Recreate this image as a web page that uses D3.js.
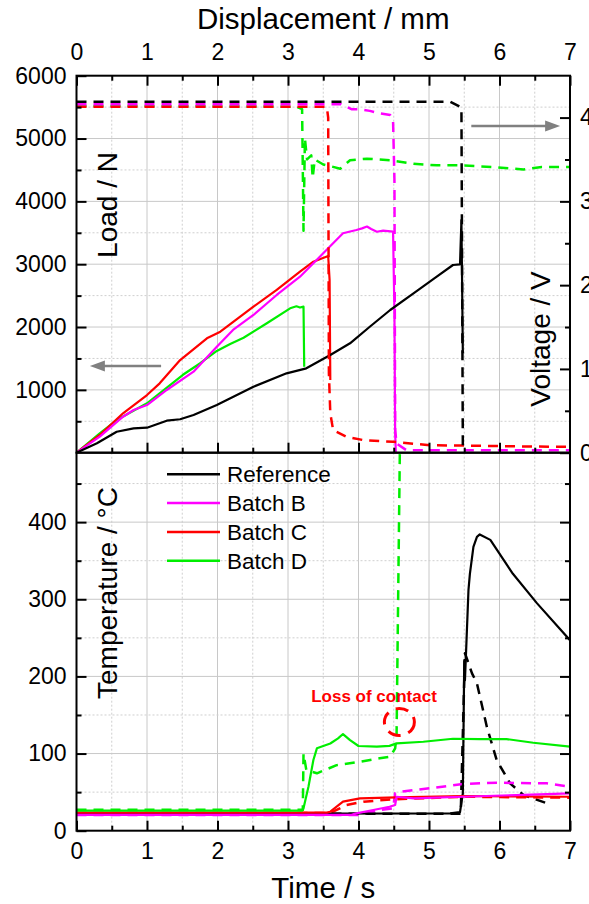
<!DOCTYPE html>
<html>
<head>
<meta charset="utf-8">
<script src="https://cdn.jsdelivr.net/npm/d3@7"></script>
<style>
body { margin: 0; background: #fff; }
svg { display: block; font-family: "Liberation Sans", Arial, sans-serif; }
</style>
</head>
<body>
<svg id="svg-main" width="589" height="904"></svg>
<script>
// series
var seriesNames = ["Reference", "Batch B", "Batch C", "Batch D"];
var seriesColors = ["#000000", "#ff00ff", "#ff0000", "#00ee00"];

// load (N) vs time (s), solid lines in the upper panel
var loadRef = [[0,0],[0.29,150],[0.57,334],[0.81,388],[1.0,398],[1.28,509],[1.47,532],[1.66,600],[1.99,759],[2.51,1050],[2.98,1263],[3.26,1343],[3.6,1555],[3.88,1741],[4.16,2005],[4.45,2271],[4.78,2537],[5.11,2801],[5.34,2987],[5.44,2998],[5.46,3703],[5.48,1582]];
var loadB = [[0,0],[0.33,255],[0.66,573],[0.81,680],[1.0,759],[1.28,998],[1.66,1289],[1.99,1687],[2.22,1953],[2.51,2192],[2.84,2510],[3.17,2801],[3.36,3014],[3.5,3174],[3.78,3492],[3.97,3545],[4.05,3570],[4.12,3600],[4.18,3560],[4.26,3517],[4.35,3535],[4.49,3517],[4.51,2219],[4.52,309],[4.53,0]];
var loadC = [[0,0],[0.33,282],[0.66,627],[1.0,918],[1.18,1104],[1.47,1475],[1.85,1821],[2.04,1926],[2.51,2324],[2.84,2590],[3.17,2881],[3.36,3040],[3.57,3131],[3.59,2749],[3.6,1157]];
var loadD = [[0,0],[0.33,309],[0.57,520],[1.0,786],[1.51,1240],[1.75,1420],[1.99,1620],[2.18,1730],[2.37,1830],[2.7,2060],[3.03,2298],[3.12,2330],[3.17,2310],[3.22,2324],[3.23,1369]];

// voltage (V) vs time (s), dashed lines in the upper panel
var voltRef = [[0,4.19],[5.3,4.19],[5.46,4.12],[5.48,0.06]];
var voltB = [[0,4.16],[3.6,4.16],[3.75,4.16],[3.9,4.1],[4.0,4.1],[4.16,4.08],[4.3,4.05],[4.45,4.03],[4.49,3.97],[4.51,3.25],[4.52,0.27],[4.54,0.11],[4.68,0.03],[7,0.03]];
var voltC = [[0,4.13],[3.55,4.13],[3.57,4.0],[3.58,0.95],[3.6,0.47],[3.64,0.27],[3.83,0.19],[4.07,0.15],[4.49,0.13],[5.01,0.09],[6.81,0.07],[7,0.07]];
var voltD = [[0,4.14],[3.12,4.13],[3.2,4.1],[3.22,2.65],[3.24,3.75],[3.27,3.5],[3.33,3.55],[3.35,3.28],[3.38,3.5],[3.5,3.44],[3.6,3.42],[3.74,3.39],[3.88,3.49],[4.12,3.51],[4.45,3.49],[4.78,3.45],[5.11,3.43],[5.44,3.43],[5.91,3.41],[6.34,3.38],[6.6,3.41],[7,3.41]];

// temperature (°C) vs time (s), solid lines in the lower panel
var tempRef = [[0,22],[5.3,22.5],[5.44,24],[5.48,48.5],[5.5,221],[5.51,195],[5.56,312],[5.58,333],[5.63,368],[5.68,381],[5.72,384],[5.87,377],[6.19,333],[6.53,295],[7,247]];
var tempB = [[0,20.5],[3.9,20.5],[3.97,22.5],[4.21,26.8],[4.44,31],[4.52,33.3],[4.54,44],[4.78,42],[5.48,44],[7,48.5]];
var tempC = [[0,23.5],[3.55,23.5],[3.6,24.6],[3.78,37.6],[4.02,42],[4.54,43.3],[5.48,45],[7,44]];
var tempD = [[0,26],[3.2,26],[3.22,29],[3.29,57],[3.36,91.6],[3.41,106.8],[3.6,113],[3.71,119.7],[3.78,125.3],[3.88,117.5],[4.0,109.8],[4.26,108.9],[4.44,110],[4.54,113.2],[4.92,115.3],[5.34,119.2],[5.72,118.8],[6.1,118.8],[6.48,114],[7,108.9]];

// second temperature reading, dashed lines in the lower panel
var temp2Ref = [[0,22],[5.45,22],[5.51,230],[5.61,204],[5.68,191],[5.82,134.8],[5.96,91.6],[6.15,61.4],[6.34,46.3],[6.74,33.3]];
var temp2B = [[0,20.5],[4.0,20.5],[4.3,26.8],[4.49,29],[4.52,48.5],[4.59,50.5],[5.01,55],[5.48,60.5],[5.96,62.2],[6.67,61.4],[7,57]];
var temp2C = [[0,23],[3.6,23],[3.83,33.3],[4.07,37.6],[4.49,40.7],[5.48,44],[7,42.8]];
var temp2D = [[0,27],[3.21,27],[3.22,100],[3.26,78.7],[3.41,74.4],[3.69,85],[4.02,89.4],[4.3,93.8],[4.45,95.9],[4.52,106.8],[4.54,124],[4.59,520]];

// ticks
var timeMajor = [0,1,2,3,4,5,6,7];
var timeMinor = [0.5,1.5,2.5,3.5,4.5,5.5,6.5];
var loadMajor = [1000,2000,3000,4000,5000,6000];
var loadMinor = [500,1500,2500,3500,4500,5500];
var voltMajor = [0,1,2,3,4];
var voltMinor = [0.5,1.5,2.5,3.5];
var tempMajor = [0,100,200,300,400];
var tempMinor = [50,150,250,350,450];

var svg = d3.select("svg");
var left = 76.5, right = 570, top1 = 75.7, mid = 452.7, bottom = 830.7;

var x = d3.scaleLinear().domain([0, 7]).range([left, right]);
var yLoad = d3.scaleLinear().domain([0, 6000]).range([mid, top1]);
var yVolt = d3.scaleLinear().domain([0, 4.5]).range([mid, top1]);
var yTemp = d3.scaleLinear().domain([0, 490]).range([bottom, mid]);

var defs = svg.append("defs");
defs.append("clipPath").attr("id", "clip-top").append("rect")
    .attr("x", left).attr("y", top1).attr("width", right - left).attr("height", mid - top1);
defs.append("clipPath").attr("id", "clip-bot").append("rect")
    .attr("x", left).attr("y", mid).attr("width", right - left).attr("height", bottom - mid);

// grid
function grid(y0, y1, ys, minorYs) {
    var g = svg.append("g");
    timeMajor.slice(1, 7).forEach(function (t) {
        g.append("line").attr("x1", x(t)).attr("x2", x(t)).attr("y1", y0).attr("y2", y1)
            .attr("stroke", "#c8c8c8").attr("stroke-width", 1);
    });
    timeMinor.forEach(function (t) {
        g.append("line").attr("x1", x(t)).attr("x2", x(t)).attr("y1", y0).attr("y2", y1)
            .attr("stroke", "#cfcfcf").attr("stroke-width", 1).attr("stroke-dasharray", "2,2");
    });
    ys.forEach(function (y) {
        g.append("line").attr("x1", left).attr("x2", right).attr("y1", y).attr("y2", y)
            .attr("stroke", "#c8c8c8").attr("stroke-width", 1);
    });
    minorYs.forEach(function (y) {
        g.append("line").attr("x1", left).attr("x2", right).attr("y1", y).attr("y2", y)
            .attr("stroke", "#cfcfcf").attr("stroke-width", 1).attr("stroke-dasharray", "2,2");
    });
}
grid(top1, mid, loadMajor.slice(0, 5).map(yLoad), loadMinor.map(yLoad));
grid(mid, bottom, tempMajor.slice(1).map(yTemp), tempMinor.map(yTemp));

// lines
function drawLine(data, yScale, color, dashed, clip) {
    var line = d3.line()
        .x(function (d) { return x(d[0]); })
        .y(function (d) { return yScale(d[1]); });
    svg.append("path")
        .datum(data)
        .attr("clip-path", "url(#" + clip + ")")
        .attr("fill", "none")
        .attr("stroke", color)
        .attr("stroke-width", dashed ? 2.5 : 2.2)
        .attr("stroke-linejoin", "round")
        .attr("stroke-dasharray", dashed ? "10,7" : null)
        .attr("d", line);
}

var loads = [loadRef, loadB, loadC, loadD];
var volts = [voltRef, voltB, voltC, voltD];
var temps = [tempRef, tempB, tempC, tempD];
var temps2 = [temp2Ref, temp2B, temp2C, temp2D];

[3, 2, 1, 0].forEach(function (i) {
    drawLine(loads[i], yLoad, seriesColors[i], false, "clip-top");
});
[3, 2, 1, 0].forEach(function (i) {
    drawLine(volts[i], yVolt, seriesColors[i], true, "clip-top");
});
[0, 1, 2, 3].forEach(function (i) {
    drawLine(temps2[i], yTemp, seriesColors[i], true, "clip-bot");
});
[0, 2, 1, 3].forEach(function (i) {
    drawLine(temps[i], yTemp, seriesColors[i], false, "clip-bot");
});

// frames
svg.append("rect").attr("x", left).attr("y", top1).attr("width", right - left).attr("height", mid - top1)
    .attr("fill", "none").attr("stroke", "#000").attr("stroke-width", 2);
svg.append("rect").attr("x", left).attr("y", mid).attr("width", right - left).attr("height", bottom - mid)
    .attr("fill", "none").attr("stroke", "#000").attr("stroke-width", 2);

// axes
function addAxis(axisFn, scale, values, size, labels, pad, tx, ty) {
    var a = axisFn(scale).tickValues(values).tickSize(size).tickPadding(pad)
        .tickFormat(labels ? function (d) { return String(d); } : "");
    var g = svg.append("g")
        .attr("transform", "translate(" + tx + "," + ty + ")")
        .call(a);
    g.attr("font-family", null).attr("font-size", 23);
    g.select(".domain").remove();
    g.selectAll("line").attr("stroke", "#000").attr("stroke-width", 2);
    g.selectAll("text").attr("fill", "#000");
}

addAxis(d3.axisTop, x, timeMajor, -10, true, 16, 0, top1);
addAxis(d3.axisTop, x, timeMinor, -5, false, 16, 0, top1);
addAxis(d3.axisBottom, x, timeMajor.slice(1, 7), -10, false, 12, 0, mid);
addAxis(d3.axisBottom, x, timeMinor, -5, false, 12, 0, mid);
addAxis(d3.axisBottom, x, timeMajor, -10, true, 12, 0, bottom);
addAxis(d3.axisBottom, x, timeMinor, -5, false, 12, 0, bottom);

addAxis(d3.axisLeft, yLoad, loadMajor, -10, true, 10, left, 0);
addAxis(d3.axisLeft, yLoad, loadMinor, -5, false, 10, left, 0);
addAxis(d3.axisRight, yVolt, voltMajor, -10, true, 10, right, 0);
addAxis(d3.axisRight, yVolt, voltMinor, -5, false, 10, right, 0);

addAxis(d3.axisLeft, yTemp, tempMajor, -10, true, 10, left, 0);
addAxis(d3.axisLeft, yTemp, tempMinor, -5, false, 10, left, 0);
addAxis(d3.axisRight, yTemp, tempMajor.slice(1), -10, false, 10, right, 0);
addAxis(d3.axisRight, yTemp, tempMinor, -5, false, 10, right, 0);

// axis titles
svg.append("text").attr("x", (left + right) / 2).attr("y", 29).attr("text-anchor", "middle")
    .attr("font-size", 29.5).text("Displacement / mm");
svg.append("text").attr("x", (left + right) / 2).attr("y", 898).attr("text-anchor", "middle")
    .attr("font-size", 29.5).text("Time / s");
svg.append("text").attr("transform", "translate(117,205) rotate(-90)").attr("text-anchor", "middle")
    .attr("font-size", 28).text("Load / N");
svg.append("text").attr("transform", "translate(117,593) rotate(-90)").attr("text-anchor", "middle")
    .attr("font-size", 28).text("Temperature / °C");
svg.append("text").attr("transform", "translate(550,339) rotate(-90)").attr("text-anchor", "middle")
    .attr("font-size", 28).text("Voltage / V");

// arrows showing which axis the curves belong to
function arrow(x1, x2, y) {
    var dir = x2 < x1 ? 1 : -1;
    svg.append("line").attr("x1", x1).attr("x2", x2 + dir * 8).attr("y1", y).attr("y2", y)
        .attr("stroke", "#808080").attr("stroke-width", 2.5);
    svg.append("path")
        .attr("d", "M" + x2 + "," + y + "L" + (x2 + dir * 15) + "," + (y - 5.5) + "L" + (x2 + dir * 15) + "," + (y + 5.5) + "Z")
        .attr("fill", "#808080");
}
arrow(x(1.2), x(0.19), yLoad(1380));
arrow(x(5.6), x(6.86), yVolt(3.9));

// legend
var legend = svg.append("g");
seriesNames.forEach(function (name, i) {
    var ly = 474.3 + i * 28.8;
    legend.append("line").attr("x1", 167).attr("x2", 220).attr("y1", ly).attr("y2", ly)
        .attr("stroke", seriesColors[i]).attr("stroke-width", 2.5);
    legend.append("text").attr("x", 227).attr("y", ly + 8).attr("font-size", 22.5).text(name);
});

// annotation
svg.append("text").attr("x", x(4.22)).attr("y", yTemp(166.4)).attr("text-anchor", "middle")
    .attr("font-size", 17).attr("font-weight", "bold").attr("fill", "#ff0000").text("Loss of contact");
svg.append("ellipse").attr("cx", x(4.58)).attr("cy", yTemp(141)).attr("rx", 15).attr("ry", 13.5)
    .attr("fill", "none").attr("stroke", "#ff0000").attr("stroke-width", 3).attr("stroke-dasharray", "13,8");
</script>
</body>
</html>
